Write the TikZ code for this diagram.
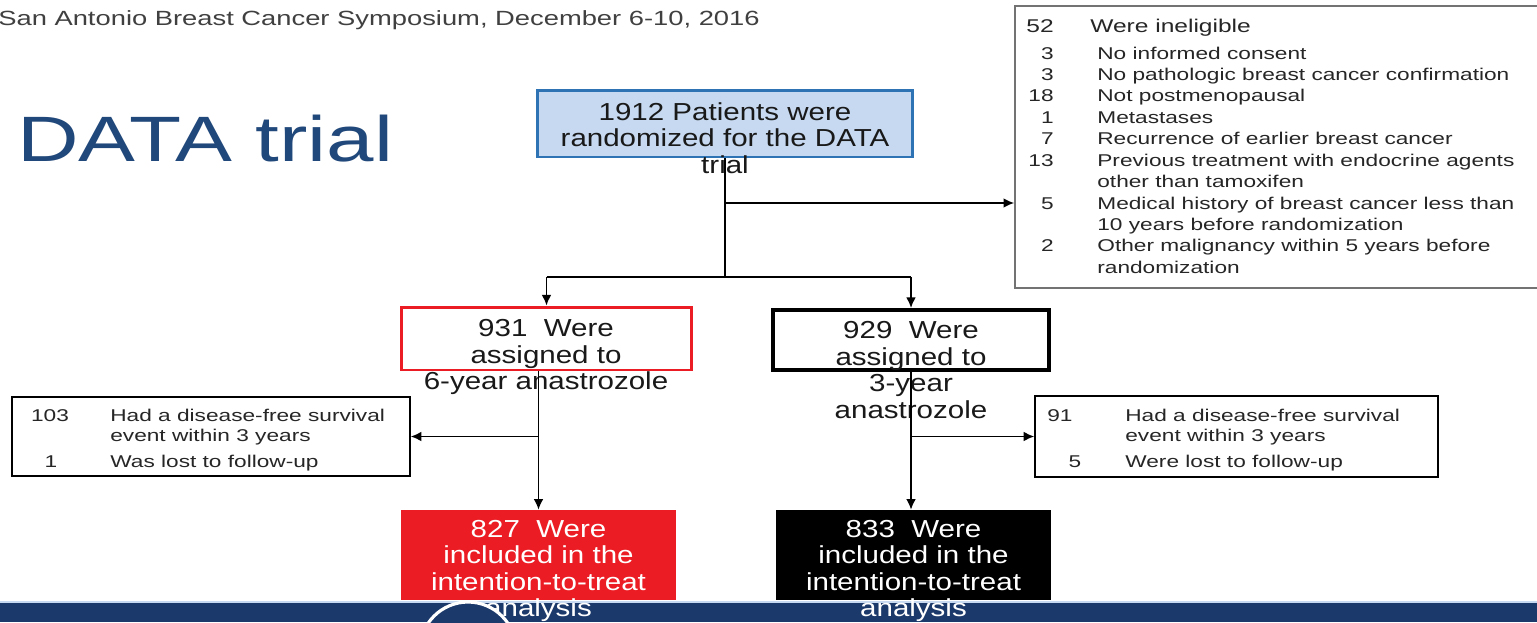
\documentclass[tikz,border=0pt]{standalone}
\usepackage{fontspec}
\setmainfont{Liberation Sans}[FakeStretch=1.33]
\newfontfamily\boxfont{Liberation Sans}[FakeStretch=1.2]
\usepackage{tikz}
\usetikzlibrary{arrows.meta}
\definecolor{navy}{RGB}{28,57,107}
\definecolor{titleblue}{RGB}{33,72,122}
\definecolor{paleblue}{RGB}{198,217,240}
\definecolor{edgeblue}{RGB}{46,116,181}
\definecolor{trialred}{RGB}{236,28,36}
\tikzstyle{flow}=[line width=0.9pt,draw=black,-{Latex[length=6pt,width=5.5pt]}]
\tikzstyle{plain}=[line width=0.9pt,draw=black]
\tikzstyle{box}=[rectangle,inner sep=0pt]
\tikzstyle{boxtxt}=[align=center,inner sep=0pt,text=black!90,font=\boxfont\fontsize{14}{15}\selectfont]
\tikzstyle{listtxt}=[inner sep=0pt,text=black!85,font=\fontsize{9.7}{12.2}\selectfont]
\tikzstyle{sidetxt}=[inner sep=0pt,text=black!85,font=\fontsize{9.7}{11.4}\selectfont]

\begin{document}
\begin{tikzpicture}[x=0.02cm,y=-0.02cm]
          \useasboundingbox (0,0) rectangle (1537,622);
          \fill[white] (0,0) rectangle (1537,622);

          % bottom bar of the slide
          \fill[navy] (0,602) rectangle (1537,622);
          \draw[paleblue,line width=0.6pt] (0,602)--(1537,602);

          \node[anchor=base west,inner sep=0pt,text=black!75,font=\fontsize{11.7}{13}\selectfont] (meeting) at (-2,26) {San Antonio Breast Cancer Symposium, December 6-10, 2016};
          \node[anchor=base west,inner sep=0pt,text=titleblue,font=\fontsize{36.5}{40}\selectfont] (title) at (17,161) {DATA trial};

          % boxes
          \node[box,draw=edgeblue,fill=paleblue,line width=1.7pt,minimum width=7.52cm,minimum height=1.34cm] (rand) at (725,123.5) {};
          \node[box,draw=black!55,line width=1.1pt,minimum width=10.6cm,minimum height=5.64cm] (inel) at (1280,147) {};
          \node[box,draw=trialred,line width=1.7pt,minimum width=5.82cm,minimum height=1.26cm] (assign6) at (546.5,338.5) {};
          \node[box,draw=black,line width=2.3pt,minimum width=5.52cm,minimum height=1.2cm] (assign3) at (911,340) {};
          \node[box,draw=black,line width=0.9pt,minimum width=7.96cm,minimum height=1.58cm] (lost6) at (211,436.5) {};
          \node[box,draw=black,line width=0.9pt,minimum width=8.06cm,minimum height=1.62cm] (lost3) at (1236.5,436.5) {};
          \node[box,fill=trialred,minimum width=5.5cm,minimum height=1.8cm] (itt6) at (538.5,555) {};
          \node[box,fill=black,minimum width=5.5cm,minimum height=1.8cm] (itt3) at (913.5,555) {};

          % texts
          \node[boxtxt] (randtxt) at (725,138) {1912 Patients were\\randomized for the DATA\\trial};
          \node[boxtxt] (assign6txt) at (546,357) {931\ \ Were\\assigned to\\6-year anastrozole};
          \node[boxtxt] (assign3txt) at (911,370) {929\ \ Were\\assigned to\\3-year\\anastrozole};
          \node[boxtxt,text=white] (itt6txt) at (538.5,571) {827\ \ Were\\included in the\\intention-to-treat\\analysis};
          \node[boxtxt,text=white] (itt3txt) at (913.5,571) {833\ \ Were\\included in the\\intention-to-treat\\analysis};

          \node[listtxt,anchor=base east,font=\fontsize{10.5}{12}\selectfont] (inelnum) at (1054,32) {52};
          \node[listtxt,anchor=base west,font=\fontsize{10.5}{12}\selectfont] (ineltxt) at (1090,32) {Were ineligible};
          \node[listtxt,anchor=base east] (whynum) at (1054,59) {\begin{tabular}[t]{@{}r@{}}3\\3\\18\\1\\7\\13\\ \\5\\ \\2\end{tabular}};
          \node[listtxt,anchor=base west] (whytxt) at (1097,59) {\begin{tabular}[t]{@{}l@{}}No informed consent\\No pathologic breast cancer confirmation\\Not postmenopausal\\Metastases\\Recurrence of earlier breast cancer\\Previous treatment with endocrine agents\\other than tamoxifen\\Medical history of breast cancer less than\\10 years before randomization\\Other malignancy within 5 years before\\randomization\end{tabular}};

          \node[sidetxt,anchor=base] (n103) at (50,421) {103};
          \node[sidetxt,anchor=base] (n1) at (51,467) {1};
          \node[sidetxt,anchor=base west] (lost6txt) at (110,421) {\begin{tabular}[t]{@{}l@{}}Had a disease-free survival\\event within 3 years\\[0.12cm]Was lost to follow-up\end{tabular}};
          \node[sidetxt,anchor=base west] (n91) at (1047,421) {91};
          \node[sidetxt,anchor=base] (n5) at (1075,467) {5};
          \node[sidetxt,anchor=base west] (lost3txt) at (1125,421) {\begin{tabular}[t]{@{}l@{}}Had a disease-free survival\\event within 3 years\\[0.12cm]Were lost to follow-up\end{tabular}};

          % connectors
          \coordinate (fork) at (725,277);
          \coordinate (exclude) at (725,203);
          \coordinate (forkL) at (assign6.north |- fork);
          \coordinate (forkR) at (assign3.north |- fork);
          \draw[plain] (rand.south)--(fork);
          \draw[plain] (forkL)--(forkR);
          \draw[flow] (forkL)--(assign6.north);
          \draw[flow] (forkR)--(assign3.north);
          \draw[flow] (exclude)--(exclude -| inel.west);

          \draw[flow] (itt6.north |- assign6.south)--(itt6.north);
          \draw[flow] (itt6.north |- lost6.east)--(lost6.east);
          \draw[flow] (assign3.south)--(assign3.south |- itt3.north);
          \draw[flow] (assign3.south |- lost3.west)--(lost3.west);

          % logo ring on the bar
          \begin{scope}
          \clip (0,0) rectangle (1537,622);
          \draw[white,line width=1.8pt,fill=navy] (468,650) circle [radius=48];
          \end{scope}
        \end{tikzpicture}
\end{document}
